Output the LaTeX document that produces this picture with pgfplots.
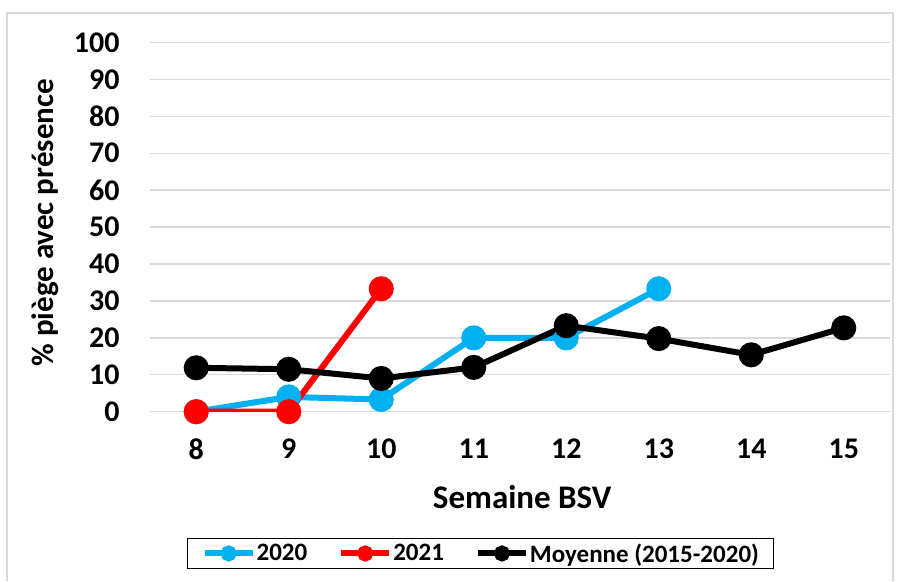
\documentclass[border=0pt]{standalone}
\usepackage{pgfplots}
\pgfplotsset{compat=1.18}
\usepackage{fontspec}
\setmainfont{Carlito}
\definecolor{cblue}{HTML}{00B0F0}
\definecolor{cred}{HTML}{FF0000}
\definecolor{cgrid}{HTML}{D9D9D9}
\begin{document}
\begin{tikzpicture}[x=1pt,y=1pt]
\path (0,0) rectangle (897,579);
\draw[cgrid, line width=1.2pt] (7,-2) -- (7,566) -- (893,566) -- (893,-2);
\begin{axis}[
  at={(150pt,167.3pt)}, anchor=south west,
  scale only axis, width=740pt, height=369.2pt,
  xmin=7.5, xmax=15.5, ymin=0, ymax=100,
  xtick={8,...,15}, ytick={0,10,...,100},
  /pgf/number format/assume math mode=true,
  axis line style={draw=none}, tick style={draw=none},
  ymajorgrids, grid style={cgrid, line width=1.4pt},
  ticklabel style={font=\bfseries\fontsize{30}{30}\selectfont},
  yticklabel style={xshift=-27pt},
  xticklabel style={yshift=-24pt},
  xlabel={Semaine BSV}, ylabel={\% piège avec présence},
  xlabel style={font=\bfseries\fontsize{33}{33}\selectfont, at={(axis description cs:0.503,-0.231)}, anchor=center},
  ylabel style={font=\bfseries\fontsize{31}{31}\selectfont, at={(axis description cs:-0.142,0.512)}, anchor=center, rotate=0},
  legend columns=3,
  legend style={at={(axis description cs:0.447,-0.384)}, anchor=center,
    draw=black, line width=1pt, font=\bfseries\fontsize{25}{25}\selectfont,
    inner xsep=14pt, inner ysep=4pt,
    /tikz/every even column/.append style={column sep=30pt},
    nodes={inner sep=1pt}},
  legend image code/.code={\draw[mark repeat=2,mark phase=2,#1, mark size=5pt] plot coordinates {(0pt,0pt) (24pt,0pt) (48pt,0pt)};},
  every axis plot/.append style={line width=6pt, mark=*, mark size=9.5pt},
]
\addplot[cblue, mark options={fill=cblue}] coordinates {(8,0) (9,4) (10,3.3) (11,20) (12,20) (13,33.3)};
\addlegendentry{2020}
\addplot[cred, mark options={fill=cred}] coordinates {(8,0) (9,0) (10,33.3)};
\addlegendentry{2021}
\addplot[black, mark options={fill=black}] coordinates {(8,11.9) (9,11.5) (10,9) (11,12) (12,23.3) (13,19.8) (14,15.4) (15,22.7)};
\addlegendentry{Moyenne (2015-2020)}
\end{axis}
\end{tikzpicture}
\end{document}
